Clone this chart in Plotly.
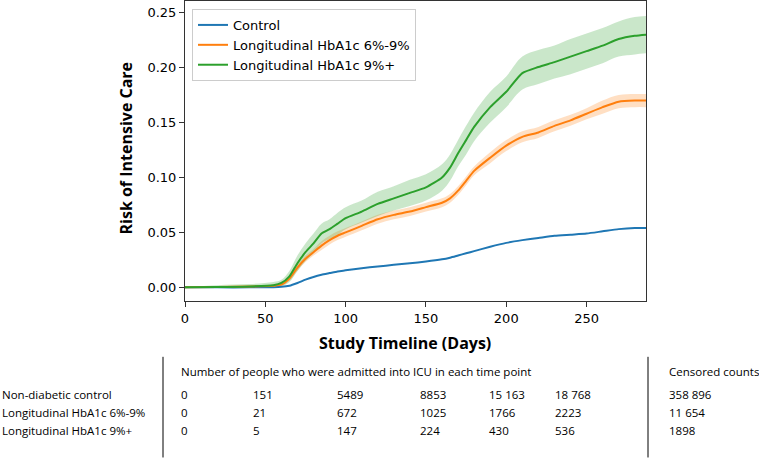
import plotly.graph_objects as go

# ---------------- data ----------------
days = [0, 20, 40, 55, 60, 65, 70, 75, 80, 85, 90, 95, 100, 110, 120, 130, 140, 150,
        160, 165, 170, 175, 180, 190, 200, 210, 220, 230, 240, 250, 260, 270, 280, 287]

control = [0, 0, 0, 0.0002, 0.0005, 0.0015, 0.004, 0.007, 0.0095, 0.0115, 0.013, 0.0145,
           0.0155, 0.0175, 0.019, 0.0205, 0.022, 0.0235, 0.0255, 0.027, 0.029, 0.031, 0.033,
           0.037, 0.0405, 0.043, 0.045, 0.047, 0.048, 0.049, 0.051, 0.053, 0.054, 0.054]

hba1c_6_9 = [0, 0.0003, 0.0008, 0.0015, 0.0025, 0.008, 0.018, 0.026, 0.032, 0.038, 0.043,
             0.047, 0.050, 0.056, 0.062, 0.066, 0.069, 0.073, 0.077, 0.081, 0.088, 0.097,
             0.106, 0.118, 0.129, 0.137, 0.141, 0.147, 0.152, 0.158, 0.164, 0.169, 0.170, 0.170]
hba1c_6_9_lo = [0, 0, 0.0003, 0.0008, 0.0015, 0.006, 0.015, 0.023, 0.029, 0.034, 0.039,
                0.043, 0.046, 0.052, 0.058, 0.062, 0.065, 0.069, 0.073, 0.077, 0.084, 0.093,
                0.102, 0.113, 0.124, 0.132, 0.136, 0.142, 0.147, 0.153, 0.158, 0.163, 0.164, 0.164]
hba1c_6_9_hi = [0, 0.0008, 0.0013, 0.0022, 0.0035, 0.010, 0.021, 0.029, 0.035, 0.042, 0.047,
                0.051, 0.054, 0.060, 0.066, 0.070, 0.073, 0.077, 0.081, 0.085, 0.092, 0.101,
                0.110, 0.123, 0.134, 0.142, 0.146, 0.152, 0.157, 0.163, 0.170, 0.175, 0.176, 0.176]

hba1c_9p = [0, 0.0003, 0.0008, 0.002, 0.004, 0.010, 0.022, 0.032, 0.040, 0.049, 0.053, 0.058,
            0.063, 0.069, 0.076, 0.081, 0.086, 0.091, 0.100, 0.109, 0.122, 0.134, 0.146, 0.164,
            0.178, 0.195, 0.2005, 0.205, 0.210, 0.215, 0.220, 0.226, 0.229, 0.230]
hba1c_9p_lo = [0, 0, 0, 0, 0.001, 0.005, 0.015, 0.024, 0.031, 0.040, 0.044, 0.048, 0.053,
               0.059, 0.065, 0.070, 0.074, 0.079, 0.088, 0.097, 0.110, 0.121, 0.133, 0.150,
               0.164, 0.180, 0.185, 0.190, 0.194, 0.199, 0.204, 0.210, 0.212, 0.213]
hba1c_9p_hi = [0, 0.002, 0.003, 0.005, 0.007, 0.015, 0.029, 0.040, 0.049, 0.058, 0.062, 0.068,
               0.073, 0.079, 0.087, 0.092, 0.098, 0.103, 0.112, 0.121, 0.134, 0.147, 0.159,
               0.178, 0.192, 0.210, 0.216, 0.220, 0.226, 0.231, 0.236, 0.242, 0.246, 0.247]

series_names = ["Control", "Longitudinal HbA1c 6%-9%", "Longitudinal HbA1c 9%+"]
series_colors = ["#1f77b4", "#ff7f0e", "#2ca02c"]
band_colors = ["rgba(31,119,180,0.25)", "rgba(255,127,14,0.25)", "rgba(44,160,44,0.25)"]

x_ticks = [0, 50, 100, 150, 200, 250]
y_ticks = [0.00, 0.05, 0.10, 0.15, 0.20, 0.25]

table_rows = ["Non-diabetic control", "Longitudinal HbA1c 6%-9%", "Longitudinal HbA1c 9%+"]
admitted = [
    ["0", "151", "5489", "8853", "15 163", "18 768"],
    ["0", "21", "672", "1025", "1766", "2223"],
    ["0", "5", "147", "224", "430", "536"],
]
censored = ["358 896", "11 654", "1898"]
table_header = "Number of people who were admitted into ICU in each time point"
censored_header = "Censored counts"

# ---------------- figure ----------------
W, H = 759, 461
L, R, T, B = 185, 646, 0, 301  # plot-area pixel box

fig = go.Figure()

bands = [(hba1c_6_9_lo, hba1c_6_9_hi, 1), (hba1c_9p_lo, hba1c_9p_hi, 2)]
for lo, hi, i in bands:
    fig.add_trace(go.Scatter(x=days, y=hi, mode="lines", line=dict(width=0, shape="spline"),
                             showlegend=False, hoverinfo="skip"))
    fig.add_trace(go.Scatter(x=days, y=lo, mode="lines", line=dict(width=0, shape="spline"),
                             fill="tonexty", fillcolor=band_colors[i],
                             showlegend=False, hoverinfo="skip"))

for ys, name, col in zip([control, hba1c_6_9, hba1c_9p], series_names, series_colors):
    fig.add_trace(go.Scatter(x=days, y=ys, mode="lines", name=name,
                             line=dict(color=col, width=2, shape="spline", smoothing=0.6)))

tick_font = dict(family="DejaVu Sans", size=13, color="black")
fig.update_xaxes(range=[0, 287], tickvals=x_ticks, ticktext=[str(v) for v in x_ticks],
                 showgrid=False, zeroline=False, showline=True, mirror=True,
                 linecolor="#333333", linewidth=1, ticks="outside", ticklen=5,
                 tickcolor="#333333", tickfont=tick_font)
fig.update_yaxes(range=[-0.0124, 0.2606], tickvals=y_ticks,
                 ticktext=[f"{v:.2f}" for v in y_ticks],
                 showgrid=False, zeroline=False, showline=True, mirror=True,
                 linecolor="#333333", linewidth=1, ticks="outside", ticklen=5,
                 tickcolor="#333333", tickfont=tick_font)

def px(xp):
    return (xp - L) / (R - L)

def py(yp):
    return (B - yp) / (B - T)

ann = []
title_font = dict(family="Open Sans", size=16, color="black")
ann.append(dict(text="<b>Risk of Intensive Care</b>", x=px(126), y=py(148), xref="paper",
                yref="paper", textangle=-90, showarrow=False, font=title_font,
                xanchor="center", yanchor="middle"))
ann.append(dict(text="<b>Study Timeline (Days)</b>", x=px(405), y=py(343), xref="paper",
                yref="paper", showarrow=False, font=title_font,
                xanchor="center", yanchor="middle"))

tfont = dict(family="Open Sans", size=11.5, color="black")
col_x = [179, 251, 335, 418, 487, 553]
row_y = [395, 413, 431]
ann.append(dict(text=table_header, x=px(179), y=py(372), xref="paper", yref="paper",
                showarrow=False, font=tfont, xanchor="left", yanchor="middle"))
ann.append(dict(text=censored_header, x=px(667), y=py(372), xref="paper", yref="paper",
                showarrow=False, font=tfont, xanchor="left", yanchor="middle"))
for r, (label, vals, cens) in enumerate(zip(table_rows, admitted, censored)):
    ann.append(dict(text=label, x=px(0), y=py(row_y[r]), xref="paper", yref="paper",
                    showarrow=False, font=tfont, xanchor="left", yanchor="middle"))
    for c, v in enumerate(vals):
        ann.append(dict(text=v, x=px(col_x[c]), y=py(row_y[r]), xref="paper", yref="paper",
                        showarrow=False, font=tfont, xanchor="left", yanchor="middle"))
    ann.append(dict(text=cens, x=px(667), y=py(row_y[r]), xref="paper", yref="paper",
                    showarrow=False, font=tfont, xanchor="left", yanchor="middle"))

shapes = [
    dict(type="line", xref="paper", yref="paper", x0=px(163), x1=px(163), y0=py(357), y1=py(458),
         line=dict(color="black", width=1)),
    dict(type="line", xref="paper", yref="paper", x0=px(648), x1=px(648), y0=py(357), y1=py(458),
         line=dict(color="black", width=1)),
]

fig.update_layout(
    width=W, height=H,
    margin=dict(l=L, r=W - R, t=T + 1, b=H - B),
    paper_bgcolor="white", plot_bgcolor="white",
    annotations=ann, shapes=shapes,
    legend=dict(x=px(192), y=py(8), xanchor="left", yanchor="top",
                bordercolor="#cccccc", borderwidth=1, bgcolor="rgba(255,255,255,0.8)",
                font=dict(family="DejaVu Sans", size=13, color="black"),
                itemwidth=30, tracegroupgap=0, traceorder="normal"),
    showlegend=True,
)

fig.write_html("out.html", config={"displayModeBar": False},
               post_script="document.body.style.margin='0px';document.body.style.overflow='hidden';")
